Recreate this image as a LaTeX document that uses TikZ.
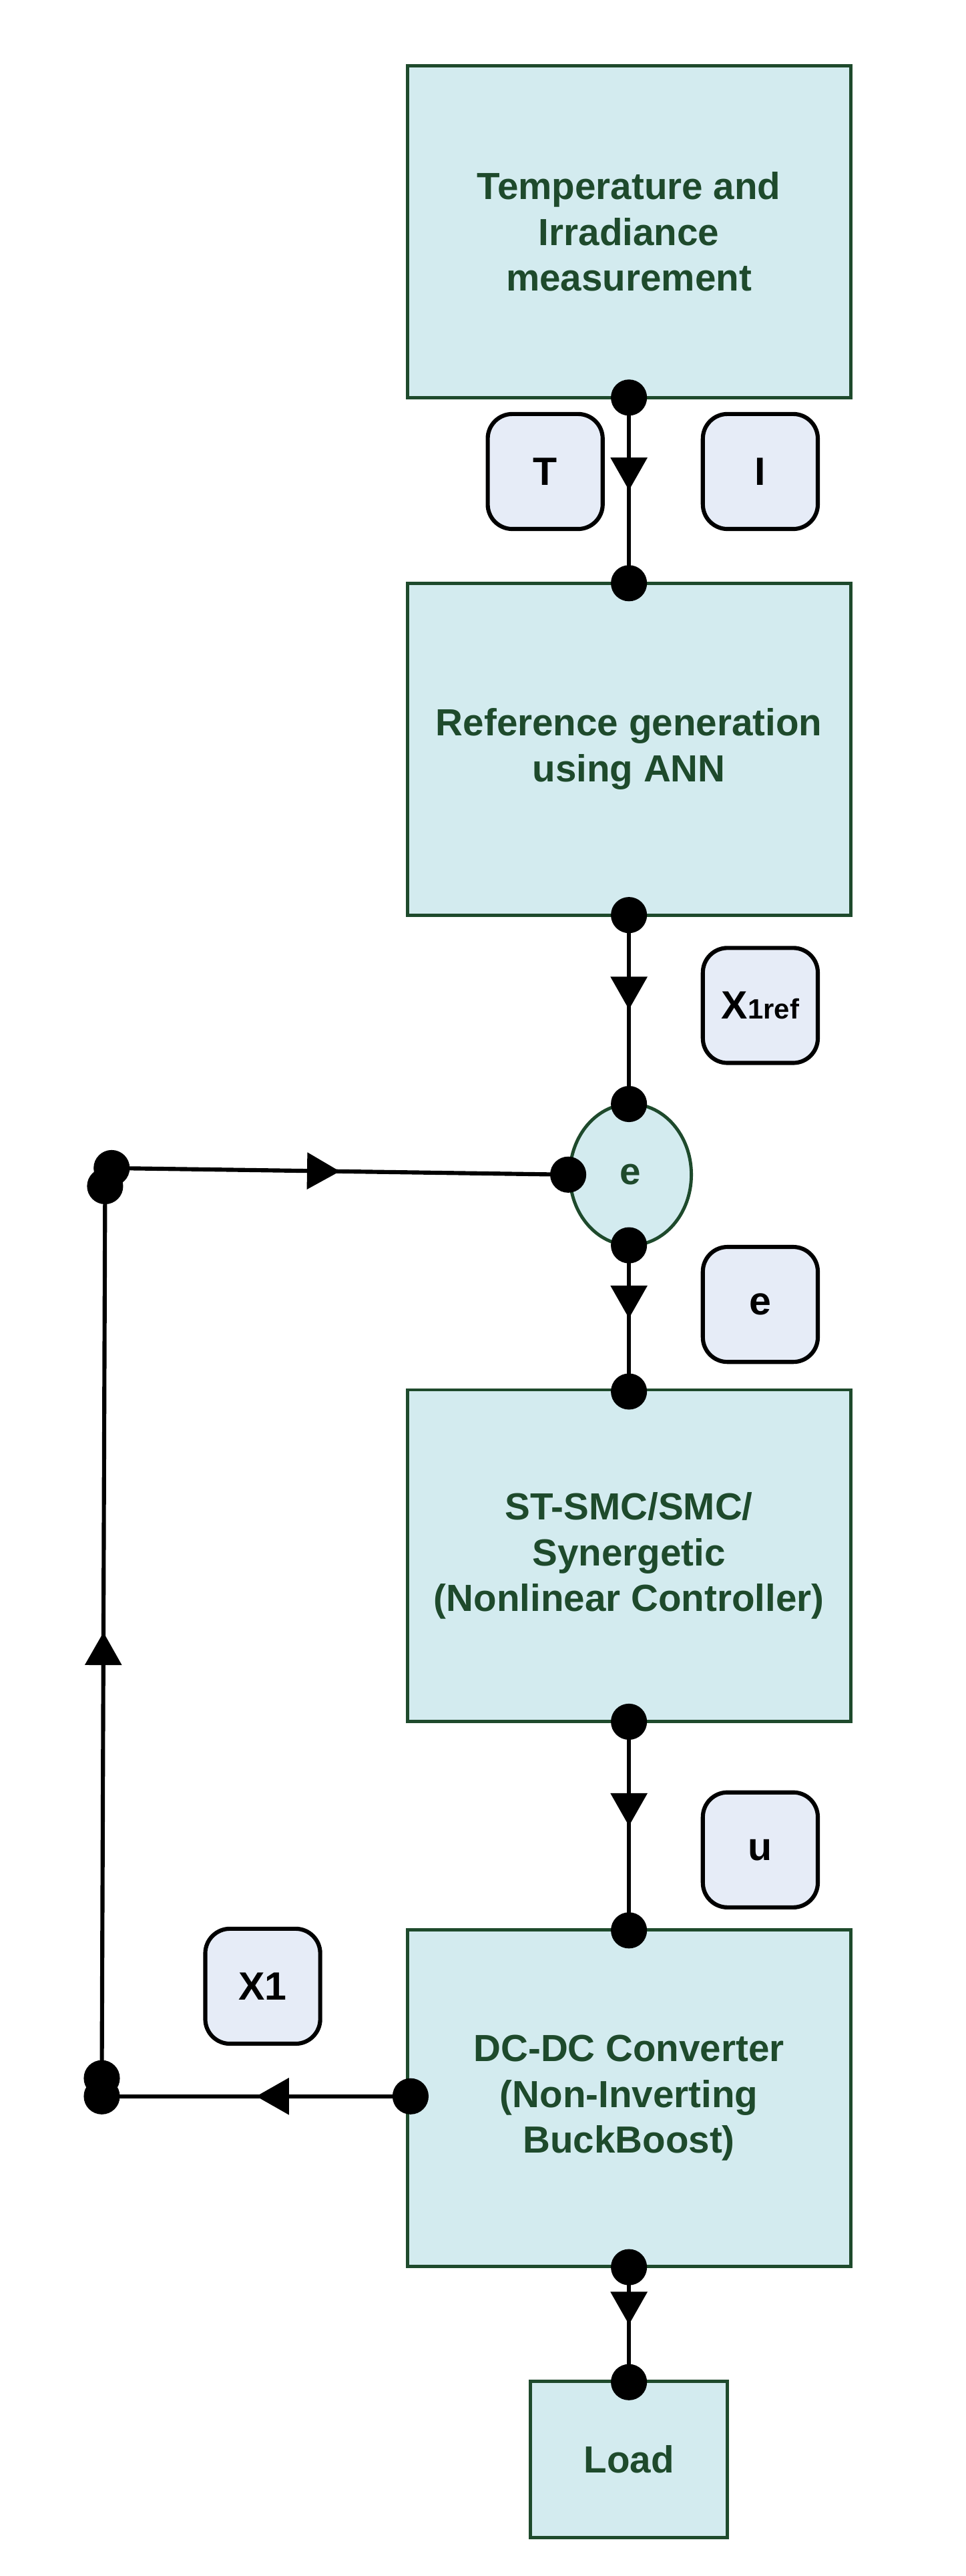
\documentclass[tikz,border=0pt]{standalone}
\usepackage{fontspec}
\setmainfont{Liberation Sans}
\usetikzlibrary{arrows.meta,decorations.markings,shapes.geometric}
\definecolor{bfill}{HTML}{D3EBEF}
\definecolor{bdraw}{HTML}{1E4A2C}
\definecolor{lfill}{HTML}{E6ECF7}
\begin{document}
\begin{tikzpicture}[x=1pt,y=-1pt,
  blk/.style={draw=bdraw,line width=2pt,fill=bfill,text=bdraw,font=\fontsize{23}{28}\selectfont\bfseries,align=center,minimum width=270pt,minimum height=202pt,inner sep=0pt},
  lab/.style={draw=black,line width=2.5pt,fill=lfill,rounded corners=15pt,minimum width=70pt,minimum height=70pt,font=\fontsize{24}{28}\selectfont\bfseries,inner sep=0pt},
  dot/.style={circle,fill=black,inner sep=0pt,minimum size=22pt},
  con/.style={line width=2.5pt,postaction={decorate},decoration={markings,mark=at position 0.5 with {\arrow{Triangle[length=20pt,width=22pt]}}}}]
\useasboundingbox (0,0) rectangle (588,1568);
\node[blk] (b1) at (383,141) {Temperature and\\Irradiance\\measurement};
\node[blk] (b2) at (383,456) {Reference generation\\using ANN};
\node[ellipse,draw=bdraw,line width=2pt,fill=bfill,text=bdraw,font=\fontsize{23}{28}\selectfont\bfseries,minimum width=74pt,minimum height=86pt,inner sep=0pt] (e) at (384,715) {e};
\node[blk] (b3) at (383,947) {ST-SMC/SMC/\\Synergetic\\(Nonlinear Controller)};
\node[blk,minimum height=205pt] (b4) at (383,1277) {DC-DC Converter\\(Non-Inverting\\BuckBoost)};
\node[blk,minimum width=120pt,minimum height=95pt] (ld) at (383,1497) {Load};
\node[lab] (lt) at (332,287) {T};
\node[lab] (li) at (463,287) {I};
\node[lab] (lx) at (463,612) {X{\fontsize{17}{20}\selectfont 1ref}};
\node[lab] (le) at (463,794) {e};
\node[lab] (lu) at (463,1126) {u};
\node[lab] (lx1) at (160,1209) {X1};
\node[dot] (d1) at (383,242) {};
\node[dot] (d2) at (383,355) {};
\node[dot] (d3) at (383,557) {};
\node[dot] (d4) at (383,672) {};
\node[dot] (d5) at (383,758) {};
\node[dot] (d6) at (383,847) {};
\node[dot] (d7) at (383,1048) {};
\node[dot] (d8) at (383,1175) {};
\node[dot] (d9) at (383,1380) {};
\node[dot] (d10) at (383,1450) {};
\node[dot] (d11) at (346,715) {};
\node[dot] (d12) at (250,1276) {};
\node[dot] (c1) at (62,1276) {};
\node[dot] (c2) at (62,1265) {};
\node[dot] (c3) at (64,722) {};
\node[dot] (c4) at (68,711) {};
\draw[con] (d1.center) -- (d2.center);
\draw[con] (d3.center) -- (d4.center);
\draw[con] (d5.center) -- (d6.center);
\draw[con] (d7.center) -- (d8.center);
\draw[con] (d9.center) -- (d10.center);
\draw[con] (d12.center) -- (c1.center);
\draw[con] (c2.center) -- (c3.center);
\draw[con] (c4.center) -- (d11.center);
\end{tikzpicture}
\end{document}
